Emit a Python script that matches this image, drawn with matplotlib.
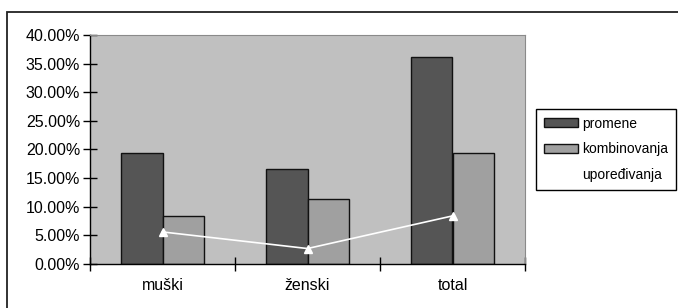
import matplotlib.pyplot as plt
import numpy as np
from matplotlib.patches import Rectangle
from matplotlib.ticker import FuncFormatter

plt.rcParams['font.family'] = ['Liberation Sans', 'DejaVu Sans']

categories = ['muški', 'ženski', 'total']
promene = [19.4, 16.6, 36.2]
kombinovanja = [8.4, 11.3, 19.4]
uporedjivanja = [5.6, 2.7, 8.4]
series_names = ['promene', 'kombinovanja', 'upoređivanja']

fig = plt.figure(figsize=(6.78, 3.08), dpi=100)
fig.patch.set_facecolor('white')

# outer frame of the chart
frame = Rectangle((7/678, -0.05), 1.0, 1 - 12/308 + 0.05, transform=fig.transFigure,
                  fill=False, edgecolor='#222222', linewidth=1.3)
fig.patches.append(frame)

ax = fig.add_axes([90/678, 44/308, 435/678, 229/308])
ax.set_facecolor('#c0c0c0')

x = np.arange(len(categories))
w = 0.285
b1 = ax.bar(x - w/2, promene, w, color='#555555', edgecolor='#111111', linewidth=1.0,
            label=series_names[0])
b2 = ax.bar(x + w/2, kombinovanja, w, color='#a0a0a0', edgecolor='#111111', linewidth=1.0,
            label=series_names[1])
ln, = ax.plot(x, uporedjivanja, color='white', linewidth=1.2, marker='^', markersize=6,
              markerfacecolor='white', markeredgecolor='white', label=series_names[2])

ax.set_xlim(-0.5, 2.5)
ax.set_ylim(0, 40)
ax.set_yticks(np.arange(0, 41, 5))
ax.yaxis.set_major_formatter(FuncFormatter(lambda v, p: f'{v:.2f}%'))
ax.set_xticks(x)
ax.set_xticklabels(categories)
ax.set_xticks([-0.5, 0.5, 1.5, 2.5], minor=True)
ax.tick_params(axis='x', which='major', length=0, pad=10, labelsize=11.5)
ax.tick_params(axis='x', which='minor', length=10, direction='inout', width=1.0)
ax.tick_params(axis='y', length=10, direction='inout', width=1.0, labelsize=11.5, pad=2)

for s in ['left', 'bottom']:
    ax.spines[s].set_color('black')
    ax.spines[s].set_linewidth(1.0)
for s in ['top', 'right']:
    ax.spines[s].set_color('#8a8a8a')
    ax.spines[s].set_linewidth(0.8)

leg = fig.legend(handles=[b1, b2, ln], loc='upper left',
                 bbox_to_anchor=(536/678, 1 - 109/308), fontsize=10,
                 frameon=True, fancybox=False, edgecolor='black', framealpha=1,
                 handlelength=2.5, handleheight=0.6, handletextpad=0.3, borderpad=0.55,
                 labelspacing=0.85, borderaxespad=0)
leg.get_frame().set_linewidth(1.0)

fig.savefig('out.png', dpi=100)
